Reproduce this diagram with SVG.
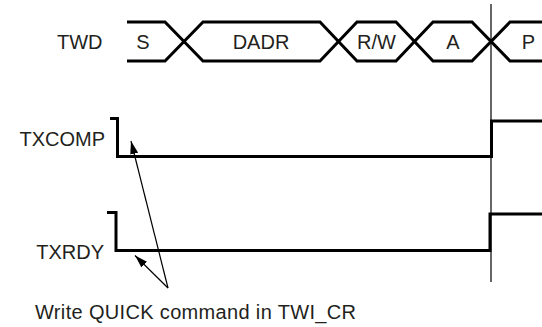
<svg xmlns="http://www.w3.org/2000/svg" width="542" height="327" viewBox="0 0 542 327">
  <style>
    text { font-family: "Liberation Sans", Arial, sans-serif; font-size: 20px; fill: #231f20; }
    .sig { fill: none; stroke: #000; stroke-width: 3; stroke-linejoin: miter; }
    .thin { fill: none; stroke: #000; stroke-width: 1.2; }
    .mid { text-anchor: middle; }
    .end { text-anchor: end; }
  </style>
  <defs>
    <marker id="ah" viewBox="0 0 13 8" refX="13" refY="4" markerWidth="13" markerHeight="8" markerUnits="userSpaceOnUse" orient="auto">
      <path d="M0,0 L13,4 L0,8 Z" fill="#000"/>
    </marker>
  </defs>
  <rect width="542" height="327" fill="#fff"/>

  <g id="twd">
    <text x="57" y="48.5">TWD</text>
    <polyline class="sig" points="127,22 165,22 203,61 320,61 357,22 396,22 433,61 472,61 510,22 542,22"/>
    <polyline class="sig" points="127,61 165,61 203,22 320,22 357,61 396,61 433,22 472,22 510,61 542,61"/>
    <text class="mid" x="143" y="48.5">S</text>
    <text class="mid" x="261" y="48.5">DADR</text>
    <text class="mid" x="376.5" y="48.5">R/W</text>
    <text class="mid" x="453" y="48.5">A</text>
    <text class="mid" x="528.5" y="48.5">P</text>
  </g>

  <g id="txcomp">
    <text class="end" x="105" y="146">TXCOMP</text>
    <polyline class="sig" points="110,118.5 117.5,118.5 117.5,156.5 491.5,156.5 491.5,121 542,121"/>
  </g>

  <g id="txrdy">
    <text class="end" x="104" y="258.5">TXRDY</text>
    <polyline class="sig" points="107,212.5 116,212.5 116,250.5 490,250.5 490,214 542,214"/>
  </g>

  <g id="note">
    <text x="35" y="319" font-size="20.5" textLength="321" lengthAdjust="spacing">Write QUICK command in TWI_CR</text>
  </g>

  <g id="connectors">
    <line class="thin" x1="491" y1="4" x2="491" y2="282"/>
    <line class="thin" x1="168" y1="288" x2="131" y2="141" marker-end="url(#ah)"/>
    <line class="thin" x1="168" y1="288" x2="135" y2="255.5" marker-end="url(#ah)"/>
  </g>
</svg>
